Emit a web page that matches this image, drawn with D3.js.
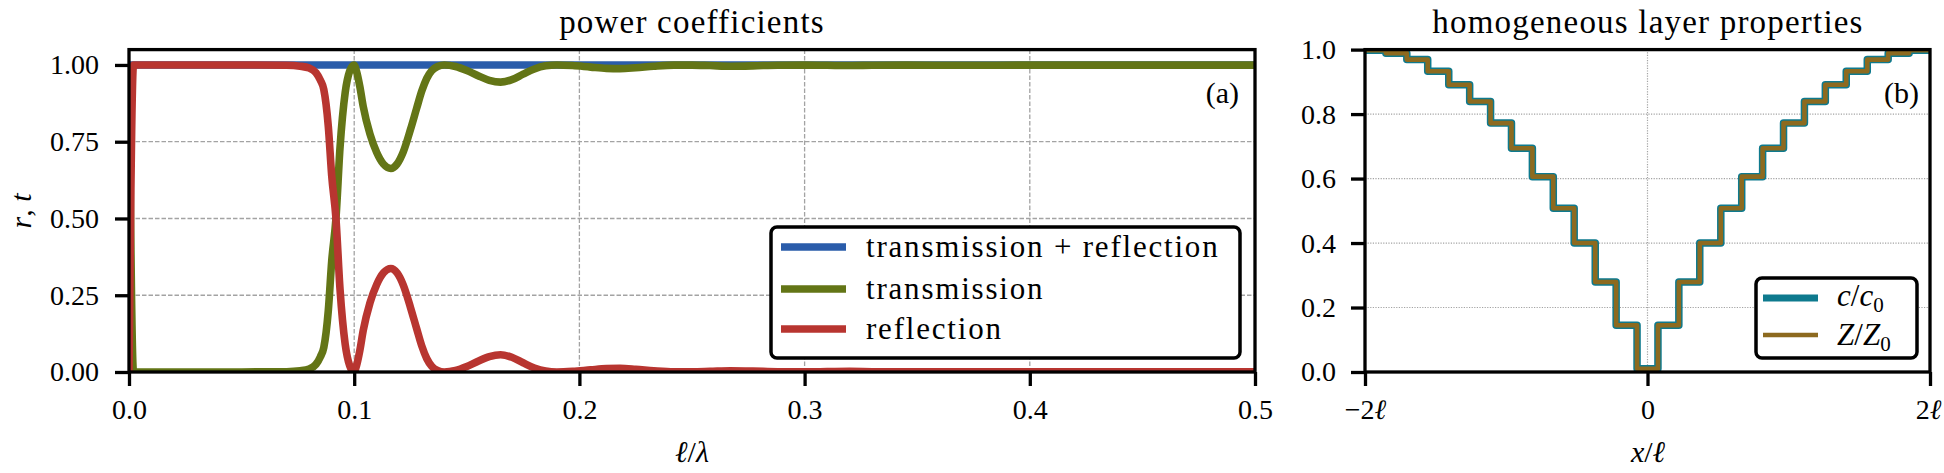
<!DOCTYPE html>
<html>
<head>
<meta charset="utf-8"/>
<title>power coefficients and layer properties</title>
<style>
  body { margin: 0; background: #fff; }
  svg, .tick text { font-family: "Liberation Serif", "DejaVu Serif", "Noto Sans", serif; }
  .tick text { font-size: 28px; fill: #000; }
  .tick line { stroke: #000; stroke-width: 3.3; }
  .grid-a line { stroke: #a3a3a3; stroke-width: 1.3; stroke-dasharray: 4.5, 2; }
  .grid-b line { stroke: #a3a3a3; stroke-width: 1.2; stroke-dasharray: 1.2, 1.4; }
  .spine { fill: none; stroke: #000; stroke-width: 3.3; }
  .title { font-size: 33px; letter-spacing: 1.2px; }
  .lab { font-size: 30px; }
  .leg text { font-size: 31px; letter-spacing: 1.8px; }
  .leg rect { fill: #fff; stroke: #000; stroke-width: 3.5; }
</style>
<script src="https://d3js.org/d3.v7.min.js"></script>
</head>
<body>
<svg id="chart" width="1944" height="473"></svg>
<script>
// ---- panel (a): power coefficients vs l/lambda ----
var ellLambda = [0, 0.002, 0.02, 0.05, 0.07, 0.076, 0.08, 0.083, 0.085, 0.0865, 0.0885, 0.09, 0.0919, 0.0937,
  0.096, 0.098, 0.0999, 0.101, 0.1025, 0.104, 0.107, 0.110, 0.113, 0.1163, 0.119, 0.1218, 0.125, 0.1277,
  0.130, 0.1322, 0.1345, 0.137, 0.140, 0.145, 0.150, 0.155, 0.160, 0.165, 0.170, 0.175, 0.180, 0.185,
  0.190, 0.197, 0.205, 0.212, 0.218, 0.225, 0.233, 0.242, 0.25, 0.258, 0.267, 0.277, 0.288, 0.30,
  0.31, 0.32, 0.33, 0.345, 0.37, 0.40, 0.45, 0.50];

var reflection = [0, 1.0, 1.0, 1.0, 0.999, 0.996, 0.99, 0.975, 0.95, 0.92, 0.80, 0.64, 0.50, 0.27,
  0.09, 0.02, 0.0, 0.02, 0.07, 0.135, 0.225, 0.285, 0.323, 0.337, 0.323, 0.283, 0.21, 0.142,
  0.085, 0.044, 0.018, 0.005, 0.0, 0.005, 0.018, 0.035, 0.05, 0.056, 0.048, 0.03, 0.013, 0.003,
  0.0, 0.002, 0.007, 0.011, 0.012, 0.009, 0.004, 0.0005, 0.0005, 0.002, 0.004, 0.003, 0.0008, 0.0005,
  0.0012, 0.002, 0.001, 0.0005, 0.001, 0.0005, 0.0005, 0.0005];

var transmission = [1.0, 0.0, 0.0, 0.0, 0.001, 0.004, 0.01, 0.025, 0.05, 0.08, 0.20, 0.36, 0.50, 0.73,
  0.91, 0.98, 1.0, 0.98, 0.93, 0.865, 0.775, 0.715, 0.677, 0.663, 0.677, 0.717, 0.79, 0.858,
  0.915, 0.956, 0.982, 0.995, 1.0, 0.995, 0.982, 0.965, 0.95, 0.944, 0.952, 0.97, 0.987, 0.997,
  1.0, 0.998, 0.993, 0.989, 0.988, 0.991, 0.996, 0.9995, 0.9995, 0.998, 0.996, 0.997, 0.9992, 0.9995,
  0.9988, 0.998, 0.999, 0.9995, 0.999, 0.9995, 0.9995, 0.9995];

var totalX = [0, 0.5];
var totalY = [1.0, 1.0];

var powerXTicks = [0, 0.1, 0.2, 0.3, 0.4, 0.5];
var powerYTicks = [0, 0.25, 0.5, 0.75, 1.0];
var powerLegend = ["transmission + reflection", "transmission", "reflection"];

// ---- panel (b): homogeneous layer properties ----
var layerEdges = [-2.000, -1.852, -1.704, -1.556, -1.407, -1.259, -1.111, -0.963, -0.815, -0.667,
  -0.519, -0.370, -0.222, -0.074, 0.074, 0.222, 0.370, 0.519, 0.667, 0.815, 0.963, 1.111,
  1.259, 1.407, 1.556, 1.704, 1.852, 2.000];
var speedRatio = [0.998, 0.989, 0.969, 0.933, 0.891, 0.839, 0.772, 0.694, 0.606, 0.508, 0.400, 0.279,
  0.145, 0.010, 0.145, 0.279, 0.400, 0.508, 0.606, 0.694, 0.772, 0.839, 0.891, 0.933, 0.969, 0.989, 0.998];
var impedanceRatio = [0.998, 0.989, 0.969, 0.933, 0.891, 0.839, 0.772, 0.694, 0.606, 0.508, 0.400, 0.279,
  0.145, 0.010, 0.145, 0.279, 0.400, 0.508, 0.606, 0.694, 0.772, 0.839, 0.891, 0.933, 0.969, 0.989, 0.998];

var layerXTicks = [-2, 0, 2];
var layerXLabels = ["\u22122", "0", "2"];
var layerYTicks = [0, 0.2, 0.4, 0.6, 0.8, 1.0];

var colBlue = "#2a5caa", colGreen = "#637516", colRed = "#b83530";
var colTeal = "#0e7a8e", colBrown = "#8d6a1f";

var svg = d3.select("#chart");
var top0 = 49.6, bot0 = 372;

var xa = d3.scaleLinear().domain([0, 0.5]).range([129, 1255]);
var ya = d3.scaleLinear().domain([0, 1.05]).range([bot0, top0]);
var xb = d3.scaleLinear().domain([-2, 2]).range([1365, 1930]);
var yb = d3.scaleLinear().domain([0, 1]).range([bot0, top0]);

var defs = svg.append("defs");
defs.append("clipPath").attr("id", "clipA").append("rect")
  .attr("x", 129).attr("y", top0).attr("width", 1255 - 129).attr("height", bot0 - top0);
defs.append("clipPath").attr("id", "clipB").append("rect")
  .attr("x", 1365).attr("y", top0).attr("width", 1930 - 1365).attr("height", bot0 - top0);

// grids
var gA = svg.append("g").attr("class", "grid-a");
gA.selectAll(".gx").data([0.1, 0.2, 0.3, 0.4]).enter().append("line")
  .attr("x1", d => xa(d)).attr("x2", d => xa(d)).attr("y1", top0).attr("y2", bot0);
gA.selectAll(".gy").data([0.25, 0.5, 0.75, 1.0]).enter().append("line")
  .attr("x1", 129).attr("x2", 1255).attr("y1", d => ya(d)).attr("y2", d => ya(d));

var gB = svg.append("g").attr("class", "grid-b");
gB.selectAll(".gx").data([0]).enter().append("line")
  .attr("x1", d => xb(d)).attr("x2", d => xb(d)).attr("y1", top0).attr("y2", bot0);
gB.selectAll(".gy").data([0.2, 0.4, 0.6, 0.8]).enter().append("line")
  .attr("x1", 1365).attr("x2", 1930).attr("y1", d => yb(d)).attr("y2", d => yb(d));

// curves (a)
var lineA = d3.line().x(d => xa(d[0])).y(d => ya(d[1])).curve(d3.curveMonotoneX);
var curvesA = svg.append("g").attr("clip-path", "url(#clipA)");
function drawA(xs, ys, col) {
  curvesA.append("path")
    .attr("d", lineA(xs.map((x, i) => [x, ys[i]])))
    .attr("fill", "none").attr("stroke", col).attr("stroke-width", 7.6)
    .attr("stroke-linejoin", "round");
}
drawA(totalX, totalY, colBlue);
drawA(ellLambda, transmission, colGreen);
drawA(ellLambda, reflection, colRed);

// curves (b)
var lineB = d3.line().x(d => xb(d[0])).y(d => yb(d[1])).curve(d3.curveStepAfter);
function steps(vals) {
  var pts = vals.map((v, i) => [layerEdges[i], v]);
  pts.push([layerEdges[layerEdges.length - 1], vals[vals.length - 1]]);
  return pts;
}
var curvesB = svg.append("g").attr("clip-path", "url(#clipB)");
curvesB.append("path").attr("d", lineB(steps(speedRatio)))
  .attr("fill", "none").attr("stroke", colTeal).attr("stroke-width", 7.5).attr("stroke-linejoin", "round");
curvesB.append("path").attr("d", lineB(steps(impedanceRatio)))
  .attr("fill", "none").attr("stroke", colBrown).attr("stroke-width", 4.6).attr("stroke-linejoin", "round");

// axes
function clean(g) {
  g.attr("font-size", null).attr("font-family", null);
  g.select(".domain").remove();
}
svg.append("g").attr("transform", "translate(0," + bot0 + ")")
  .call(d3.axisBottom(xa).tickValues(powerXTicks).tickFormat(d3.format(".1f"))
    .tickSizeInner(14).tickSizeOuter(0).tickPadding(13))
  .call(clean);
svg.append("g").attr("transform", "translate(129,0)")
  .call(d3.axisLeft(ya).tickValues(powerYTicks).tickFormat(d3.format(".2f"))
    .tickSizeInner(14).tickSizeOuter(0).tickPadding(16))
  .call(clean);

var axB = svg.append("g").attr("transform", "translate(0," + bot0 + ")")
  .call(d3.axisBottom(xb).tickValues(layerXTicks).tickSizeInner(14).tickSizeOuter(0).tickPadding(13))
  .call(clean);
axB.selectAll(".tick text").each(function (d, i) {
  var t = d3.select(this).text(null);
  if (d > 0) t.attr("x", -2);
  t.append("tspan").text(layerXLabels[i]);
  if (d !== 0) t.append("tspan").attr("font-style", "italic").text("\u2113");
});
svg.append("g").attr("transform", "translate(1365,0)")
  .call(d3.axisLeft(yb).tickValues(layerYTicks).tickFormat(d3.format(".1f"))
    .tickSizeInner(14).tickSizeOuter(0).tickPadding(15))
  .call(clean);

// spines
svg.append("rect").attr("class", "spine").attr("x", 129).attr("y", top0)
  .attr("width", 1255 - 129).attr("height", bot0 - top0);
svg.append("rect").attr("class", "spine").attr("x", 1365).attr("y", top0)
  .attr("width", 1930 - 1365).attr("height", bot0 - top0);

// titles and labels
svg.append("text").attr("class", "title").attr("x", 692).attr("y", 33)
  .attr("text-anchor", "middle").text("power coefficients");
svg.append("text").attr("class", "title").attr("x", 1648).attr("y", 33)
  .attr("text-anchor", "middle").text("homogeneous layer properties");

var xlA = svg.append("text").attr("class", "lab").attr("x", 692).attr("y", 462).attr("text-anchor", "middle");
xlA.append("tspan").attr("font-style", "italic").text("\u2113");
xlA.append("tspan").text("/");
xlA.append("tspan").attr("font-style", "italic").text("\u03bb");

var xlB = svg.append("text").attr("class", "lab").attr("x", 1648).attr("y", 462).attr("text-anchor", "middle");
xlB.append("tspan").attr("font-style", "italic").text("x");
xlB.append("tspan").text("/");
xlB.append("tspan").attr("font-style", "italic").text("\u2113");

var ylA = svg.append("text").attr("class", "lab").attr("text-anchor", "middle")
  .attr("transform", "translate(31,211) rotate(-90)");
ylA.append("tspan").attr("font-style", "italic").text("r");
ylA.append("tspan").text(", ");
ylA.append("tspan").attr("font-style", "italic").text("t");

svg.append("text").attr("class", "lab").attr("x", 1239).attr("y", 103).attr("text-anchor", "end").text("(a)");
svg.append("text").attr("class", "lab").attr("x", 1919).attr("y", 103).attr("text-anchor", "end").text("(b)");

// legend (a)
var legA = svg.append("g").attr("class", "leg");
legA.append("rect").attr("x", 771).attr("y", 227).attr("width", 469).attr("height", 131).attr("rx", 6);
var legAColors = [colBlue, colGreen, colRed];
var legARows = [247, 289, 329];
powerLegend.forEach(function (name, i) {
  legA.append("line").attr("x1", 781).attr("x2", 846).attr("y1", legARows[i]).attr("y2", legARows[i])
    .attr("stroke", legAColors[i]).attr("stroke-width", 7.6);
  legA.append("text").attr("x", 866).attr("y", legARows[i] + 10).text(name);
});

// legend (b)
var legB = svg.append("g").attr("class", "leg");
legB.append("rect").attr("x", 1756).attr("y", 278).attr("width", 161).attr("height", 80).attr("rx", 6);
legB.append("line").attr("x1", 1763).attr("x2", 1818).attr("y1", 298).attr("y2", 298)
  .attr("stroke", colTeal).attr("stroke-width", 7);
legB.append("line").attr("x1", 1763).attr("x2", 1818).attr("y1", 335).attr("y2", 335)
  .attr("stroke", colBrown).attr("stroke-width", 4.6);
var lc = legB.append("text").attr("x", 1837).attr("y", 306).style("letter-spacing", "0px");
lc.append("tspan").attr("font-style", "italic").text("c");
lc.append("tspan").text("/");
lc.append("tspan").attr("font-style", "italic").text("c");
lc.append("tspan").attr("font-size", 21).attr("dy", 6).text("0");
var lz = legB.append("text").attr("x", 1837).attr("y", 345).style("letter-spacing", "0px");
lz.append("tspan").attr("font-style", "italic").text("Z");
lz.append("tspan").text("/");
lz.append("tspan").attr("font-style", "italic").text("Z");
lz.append("tspan").attr("font-size", 21).attr("dy", 6).text("0");
</script>
</body>
</html>
